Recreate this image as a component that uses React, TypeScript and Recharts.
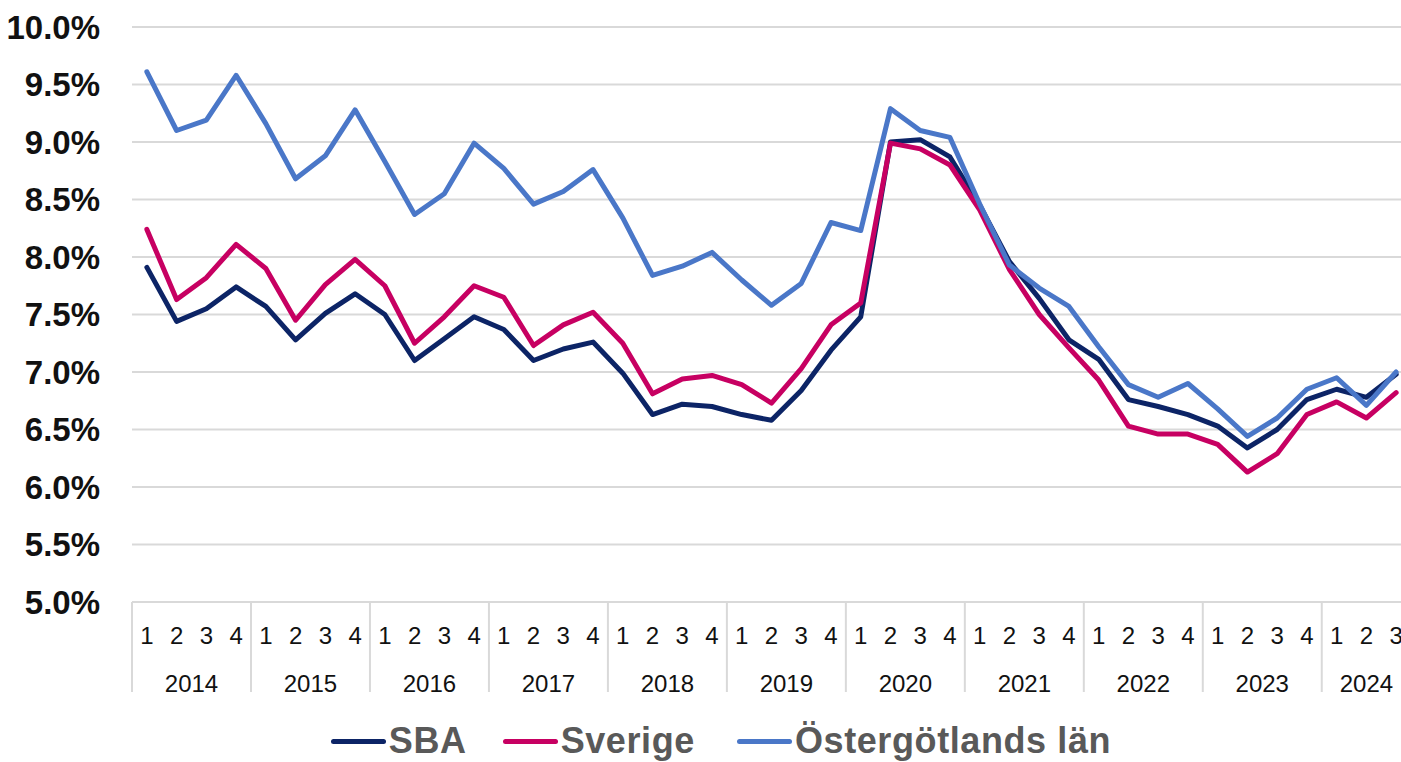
import React from 'react';
import { LineChart, Line, XAxis, YAxis, CartesianGrid, Legend } from 'recharts';

const years = ['2014', '2015', '2016', '2017', '2018', '2019', '2020', '2021', '2022', '2023', '2024'];
const quarterNames = ['1', '2', '3', '4'];
const quartersInLastYear = 3;

const sba = [
  7.91, 7.44, 7.55, 7.74, 7.57, 7.28, 7.51, 7.68, 7.5, 7.1, 7.29, 7.48,
  7.37, 7.1, 7.2, 7.26, 6.99, 6.63, 6.72, 6.7, 6.63, 6.58, 6.84, 7.19,
  7.48, 9.0, 9.02, 8.87, 8.45, 7.96, 7.64, 7.28, 7.11, 6.76, 6.7, 6.63,
  6.53, 6.34, 6.5, 6.76, 6.85, 6.78, 6.98,
];
const sverige = [
  8.24, 7.63, 7.82, 8.11, 7.9, 7.45, 7.76, 7.98, 7.75, 7.25, 7.48, 7.75,
  7.65, 7.23, 7.41, 7.52, 7.25, 6.81, 6.94, 6.97, 6.89, 6.73, 7.03, 7.41,
  7.6, 8.99, 8.94, 8.8, 8.41, 7.89, 7.5, 7.21, 6.93, 6.53, 6.46, 6.46,
  6.37, 6.13, 6.29, 6.63, 6.74, 6.6, 6.82,
];
const ostergotland = [
  9.61, 9.1, 9.19, 9.58, 9.16, 8.68, 8.88, 9.28, 8.83, 8.37, 8.55, 8.99,
  8.77, 8.46, 8.57, 8.76, 8.34, 7.84, 7.92, 8.04, 7.8, 7.58, 7.77, 8.3,
  8.23, 9.29, 9.1, 9.04, 8.46, 7.93, 7.73, 7.57, 7.22, 6.89, 6.78, 6.9,
  6.68, 6.44, 6.6, 6.85, 6.95, 6.71, 7.0,
];
const yTicks = [5, 5.5, 6, 6.5, 7, 7.5, 8, 8.5, 9, 9.5, 10];

const series = [
  { key: 'sba', name: 'SBA', color: '#0c2466', gap: 0 },
  { key: 'sverige', name: 'Sverige', color: '#c70062', gap: 36 },
  { key: 'ost', name: 'Östergötlands län', color: '#4a77c8', gap: 42 },
];

const periods = years.flatMap((yr, yi) =>
  quarterNames
    .slice(0, yi === years.length - 1 ? quartersInLastYear : 4)
    .map((q) => ({ year: yr, q }))
);

const data = periods.map((p, i) => ({
  key: `${p.year}-${p.q}`,
  year: p.year,
  q: p.q,
  sba: sba[i],
  sverige: sverige[i],
  ost: ostergotland[i],
}));

const CHART_W = 1420;
const CHART_H = 762;
const Y_AXIS_W = 132;
const MARGIN_RIGHT = 9;
const BAND = (CHART_W - Y_AXIS_W - MARGIN_RIGHT) / data.length;
const FONT = "'Liberation Sans Narrow', 'Liberation Sans', Arial, sans-serif";

function QuarterTick(props: any) {
  const { x, y, payload } = props;
  const d = data.find((r) => r.key === payload.value);
  if (!d) return null;
  const isFirst = d.q === '1';
  const count = data.filter((r) => r.year === d.year).length;
  const left = x - BAND / 2;
  return (
    <g>
      <text x={x} y={y + 33} textAnchor="middle" dominantBaseline="central" fontSize={24} fill="#111" fontFamily={FONT}>
        {d.q}
      </text>
      {isFirst && (
        <>
          <line x1={left} x2={left} y1={y} y2={y + 90} stroke="#d9d9d9" strokeWidth={2} />
          <text
            x={left + (count * BAND) / 2}
            y={y + 81}
            textAnchor="middle"
            dominantBaseline="central"
            fontSize={24}
            fill="#111"
            fontFamily={FONT}
          >
            {d.year}
          </text>
        </>
      )}
    </g>
  );
}

function YTick(props: any) {
  const { y, payload } = props;
  return (
    <text x={100} y={y} textAnchor="end" dominantBaseline="central" fontSize={33} fontWeight={700} fill="#111" fontFamily={FONT}>
      {payload.value.toFixed(1)}%
    </text>
  );
}

function LegendContent() {
  return (
    <div
      style={{
        height: 70,
        display: 'flex',
        alignItems: 'center',
        justifyContent: 'center',
        paddingLeft: 31,
        paddingTop: 28,
        boxSizing: 'border-box',
      }}
    >
      {series.map((s) => (
        <div key={s.key} style={{ display: 'flex', alignItems: 'center', marginLeft: s.gap }}>
          <div style={{ width: 55, height: 5, borderRadius: 3, background: s.color, marginRight: 3 }} />
          <span
            style={{
              fontFamily: FONT,
              fontWeight: 700,
              fontSize: 36,
              letterSpacing: 0.6,
              color: '#595959',
              lineHeight: '40px',
            }}
          >
            {s.name}
          </span>
        </div>
      ))}
    </div>
  );
}

export default function App() {
  return (
    <div
      style={{
        position: 'fixed',
        left: 0,
        top: 0,
        width: 1401,
        height: 762,
        overflow: 'hidden',
        background: '#fff',
      }}
    >
      <LineChart width={CHART_W} height={CHART_H} data={data} margin={{ top: 27, right: MARGIN_RIGHT, left: 0, bottom: 0 }}>
        <CartesianGrid vertical={false} stroke="#d9d9d9" strokeWidth={2} />
        <XAxis
          dataKey="key"
          interval={0}
          height={90}
          padding={{ left: BAND / 2, right: BAND / 2 }}
          tickLine={false}
          tickSize={0}
          tickMargin={0}
          axisLine={{ stroke: '#d9d9d9', strokeWidth: 2 }}
          tick={<QuarterTick />}
        />
        <YAxis
          width={Y_AXIS_W}
          domain={[5, 10]}
          ticks={yTicks}
          axisLine={false}
          tickLine={false}
          tick={<YTick />}
        />
        <Legend verticalAlign="bottom" content={<LegendContent />} />
        {series.map((s) => (
          <Line
            key={s.key}
            type="linear"
            dataKey={s.key}
            name={s.name}
            stroke={s.color}
            strokeWidth={5}
            strokeLinejoin="round"
            strokeLinecap="round"
            dot={false}
            isAnimationActive={false}
          />
        ))}
      </LineChart>
    </div>
  );
}
